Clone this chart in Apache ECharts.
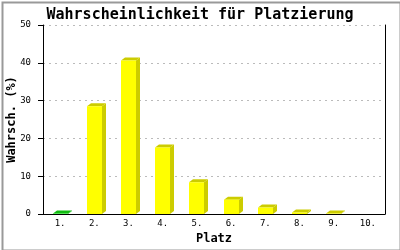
<!DOCTYPE html>
<html><head><meta charset="utf-8">
<script src="https://cdn.jsdelivr.net/npm/echarts@6/dist/echarts.min.js"></script>
<style>html,body{margin:0;padding:0;background:#fff}#c{width:400px;height:250px}</style>
</head><body><div id="c"></div>
<script>
const titleText = 'Wahrscheinlichkeit für Platzierung';
const xAxisName = 'Platz';
const yAxisName = 'Wahrsch. (%)';
const categories = ['1.','2.','3.','4.','5.','6.','7.','8.','9.','10.'];
const values = [0.1, 28.5, 40.6, 17.6, 8.4, 3.8, 1.7, 0.4, 0.1, 0];
const yTicks = [0, 10, 20, 30, 40, 50];
const highlightCategory = '1.';

const mono = 'DejaVu Sans Mono';
const chart = echarts.init(document.getElementById('c'), null, {renderer:'canvas'});

function renderItem(params, api) {
  const v = api.value(1);
  if (!v) return;
  const idx = api.value(0);
  const base = api.coord([idx, 0]);
  const top = api.coord([idx, v]);
  const w = 15, dx = 4, dy = 3;
  const x0 = Math.round(top[0] - w / 2), x1 = x0 + w;
  const yt = top[1], yb = base[1];
  const hl = categories[idx] === highlightCategory;
  const front = hl ? '#00ee00' : '#ffff00';
  const shade = hl ? '#11bb11' : '#cccc00';
  return {
    type: 'group',
    children: [
      {type:'polygon', shape:{points:[[x1,yt],[x1+dx,yt-dy],[x1+dx,yb-dy],[x1,yb]]}, style:{fill:shade}},
      {type:'polygon', shape:{points:[[x0,yt],[x0+dx,yt-dy],[x1+dx,yt-dy],[x1,yt]]}, style:{fill:shade}},
      {type:'rect', shape:{x:x0, y:yt, width:w, height:yb-yt}, style:{fill:front}}
    ]
  };
}

chart.setOption({
  animation: false,
  backgroundColor: '#fff',
  title: {
    text: titleText, left: 'center', top: 3,
    textStyle: {fontFamily: mono, fontWeight: 'bold', fontSize: 15, color: '#000'}
  },
  grid: {left: 43, right: 15, top: 25, bottom: 36, outerBoundsMode: 'none', containLabel: false},
  xAxis: {
    type: 'category', data: categories,
    name: xAxisName, nameLocation: 'middle', nameGap: 19, nameMoveOverlap: false,
    nameTextStyle: {fontFamily: mono, fontWeight: 'bold', fontSize: 12, color: '#000'},
    axisLine: {lineStyle: {color: '#000', width: 1}},
    axisTick: {show: false},
    axisLabel: {fontFamily: mono, fontSize: 9, color: '#000', margin: 5},
    splitLine: {show: false}
  },
  yAxis: [{
    type: 'value', min: yTicks[0], max: yTicks[yTicks.length-1], interval: 10,
    name: yAxisName, nameLocation: 'middle', nameGap: 25, nameRotate: 90, nameMoveOverlap: false,
    nameTextStyle: {fontFamily: mono, fontWeight: 'bold', fontSize: 12, color: '#000'},
    axisLine: {show: true, lineStyle: {color: '#000', width: 1}},
    axisTick: {show: true, length: 5, lineStyle: {color: '#000'}},
    axisLabel: {fontFamily: mono, fontSize: 9, color: '#000', margin: 12},
    splitLine: {show: true, lineStyle: {color: '#bbbbbb', type: [2, 4], width: 1}}
  }, {
    type: 'value', min: yTicks[0], max: yTicks[yTicks.length-1], interval: 10, position: 'right',
    axisLine: {show: true, lineStyle: {color: '#000', width: 1}},
    axisTick: {show: false}, axisLabel: {show: false}, splitLine: {show: false}
  }],
  graphic: [{
    type: 'rect', left: 0, top: 0, silent: true,
    shape: {x: 1, y: 1, width: 398, height: 248},
    style: {fill: 'none', stroke: '#999', lineWidth: 2}
  }],
  series: [{
    type: 'custom',
    renderItem: renderItem,
    encode: {x: 0, y: 1},
    data: values.map((v, i) => [i, v]),
    z: 1
  }]
});
</script>
</body></html>
